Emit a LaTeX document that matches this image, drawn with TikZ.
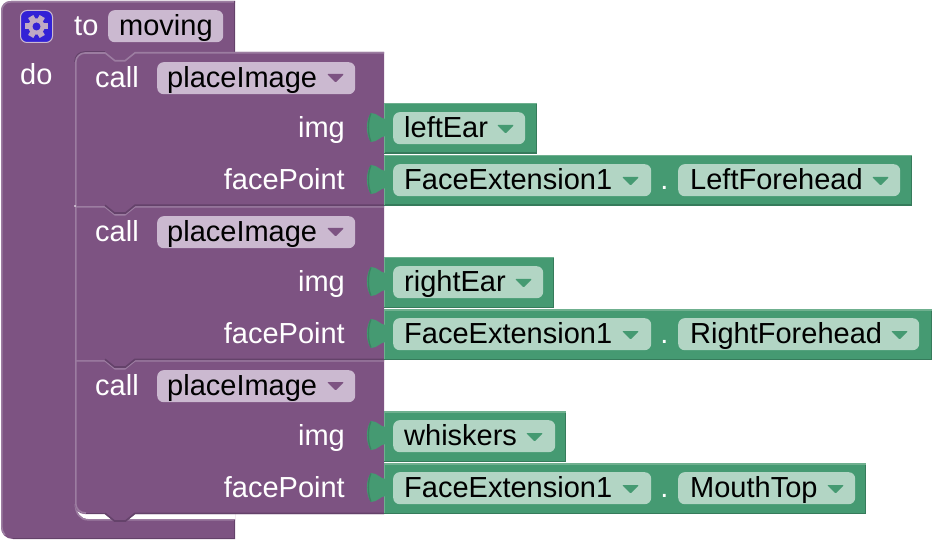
\documentclass[tikz,border=0pt]{standalone}
\usepackage{fontspec}
\setmainfont{Liberation Sans}
\definecolor{pur}{HTML}{7D5382}
\definecolor{purL}{HTML}{9C7DA1}
\definecolor{purD}{HTML}{64426A}
\definecolor{purF}{HTML}{CBB9D0}
\definecolor{grn}{HTML}{459A72}
\definecolor{grnL}{HTML}{6FB08F}
\definecolor{grnD}{HTML}{367B5B}
\definecolor{grnF}{HTML}{B2D5C4}
\definecolor{gearblue}{HTML}{3322D6}
\tikzset{
  x=1pt,y=-1pt,
  lbl/.style={inner sep=0pt,anchor=base,font=\fontsize{29}{29}\selectfont},
  wlbl/.style={lbl,text=white},
  blbl/.style={lbl,text=black,anchor=base west},
  wlblr/.style={lbl,text=white,anchor=base east},
  fieldbox/.style={rounded corners=6.5pt,inner sep=0pt,minimum height=32pt,anchor=north west},
  edgeL/.style={line width=1.6pt,purL},
  edgeD/.style={line width=1.6pt,purD},
  gL/.style={line width=1.6pt,grnL},
  gD/.style={line width=1.6pt,grnD},
}
% \callblock{top}{path back from the notch to the left edge}
\newcommand{\callblock}[2]{%
  \fill[pur] (75,#1) -- (105,#1) -- (115,#1+8) -- (125,#1+8) -- (135,#1) -- (384,#1) -- (384,#1+154) -- (135,#1+154) -- (125,#1+162) -- (115,#1+162) -- (105,#1+154) #2 -- cycle;
  \draw[edgeD] (384,#1+153.3) -- (135,#1+153.3) -- (125.5,#1+161) -- (114.5,#1+161) -- (105,#1+153.3);
  \draw[edgeL] (75,#1+.8) -- (105,#1+.8) -- (115,#1+8.8) -- (125,#1+8.8) -- (135,#1+.8) -- (384,#1+.8);
}
% \valueblock{top}{right}
\newcommand{\valueblock}[2]{%
  \fill[grn] (384,#1) rectangle (#2,#1+51);
  \draw[gD] (#2-.7,#1) -- (#2-.7,#1+50.3) -- (384,#1+50.3);
  \draw[gL] (384.5,#1+50) -- (384.5,#1+.7) -- (#2,#1+.7);
  \fill[grn] (386,#1+16) .. controls (380,#1+16) and (378,#1+10) .. (371,#1+10) .. controls (365.5,#1+17) and (365.5,#1+32) .. (371,#1+39) .. controls (378,#1+39) and (380,#1+33) .. (386,#1+33) -- cycle;
  \draw[line width=1.3pt,grnD!70!grn] (371,#1+10.5) .. controls (367.5,#1+18) and (367.5,#1+31) .. (371,#1+38.5);
}
% \dropmark{x}{y}{colour}
\newcommand{\dropmark}[3]{\fill[#3,rounded corners=1pt] (#1,#2) -- (#1+17,#2) -- (#1+8.5,#2+8.5) -- cycle;}
\begin{document}
\begin{tikzpicture}
\useasboundingbox (0,0) rectangle (932,540);
% outer procedure block
\fill[pur] (1,11) .. controls (1,5) and (5,1) .. (11,1) -- (235,1) -- (235,539) -- (13,539) .. controls (6,539) and (1,534) .. (1,527) -- cycle;
\fill[white] (75,500) .. controls (75,511) and (80,519) .. (88,519) -- (235,519) -- (235,512) -- (85,512) -- cycle;
\draw[edgeL] (235,1.8) -- (11,1.8) .. controls (5.5,1.8) and (1.8,5.5) .. (1.8,11) -- (1.8,527) .. controls (1.8,530) and (3,533) .. (5,535);
\draw[edgeL] (75.3,504) .. controls (75.5,513) and (80,519.8) .. (88,519.8) -- (235,519.8);
\draw[edgeD] (235,538.3) -- (13,538.3);
\draw[edgeD] (234.3,520) -- (234.3,539);
\draw[edgeD] (234.3,1) -- (234.3,52);
% statement blocks, lowest first so each notch overlays the next block
\callblock{360}{-- (85,514) .. controls (79,514) and (75,510) .. (75,504)}
\callblock{206}{-- (75,360)}
\callblock{52}{-- (75,206)}
% first block's rounded top corner
\fill[pur] (75,51) rectangle (86,62);
\draw[edgeD] (75,62) .. controls (75,56) and (79,52) .. (85,52) -- (105,52);
\fill[pur] (75.8,62) .. controls (75.8,57) and (80,53) .. (85,53) -- (87,62) -- cycle;
\draw[edgeL] (75.8,62) .. controls (75.8,57) and (80,53) .. (85,53) -- (105,53);
\draw[edgeL] (75.8,62) -- (75.8,504) .. controls (76,509) and (80,513) .. (86,513);
\draw[edgeD] (86,513.3) -- (106,513.3);
\fill[white] (75,206) circle[radius=.9];
% green reporter blocks
\valueblock{103}{537}
\valueblock{155}{912}
\valueblock{257}{554}
\valueblock{309}{932}
\valueblock{411}{566}
\valueblock{463}{866}
% header
\node[fieldbox,fill=gearblue,draw=purF,line width=1pt,minimum width=32pt,minimum height=32pt] (gearbox) at (20,10) {};
\fill[purF!85!pur] (gearbox.center) circle[radius=8.2];
\foreach \a in {0,60,...,300}{\fill[purF!85!pur] (gearbox.center) ++(\a:7) ++(\a+90:3) -- ++(\a:4.5) -- ++(\a-90:6) -- ++(\a:-4.5) -- cycle;}
\fill[gearblue] (gearbox.center) circle[radius=4];
\node[wlbl,anchor=base west] (to) at (74,35.5) {to};
\node[wlbl,anchor=base west] (do) at (20,84.5) {do};
\node[fieldbox,fill=purF,minimum width=115pt] (f0) at (108,10) {};
\node[blbl] (moving) at (119,35.5) {moving};
% call rows
\foreach \t/\n in {0/a,154/b,308/c}{
  \node[wlbl,anchor=base west] (call\n) at (95,87.5+\t) {call};
  \node[fieldbox,fill=purF,minimum width=198pt] (pf\n) at (157,62+\t) {};
  \node[blbl] (pi\n) at (167,87.5+\t) {placeImage};
  \dropmark{327}{74+\t}{pur}
  \node[wlblr] (img\n) at (345,137.5+\t) {img};
  \node[wlblr] (fp\n) at (345,189.5+\t) {facePoint};
  \node[fieldbox,fill=grnF,minimum width=258pt] (fe\n) at (393,164+\t) {};
  \node[blbl] (fet\n) at (404,189.5+\t) {FaceExtension1};
  \dropmark{622}{177+\t}{grn}
  \node[wlbl] (dot\n) at (664.5,189.5+\t) {.};
}
% img fields
\node[fieldbox,fill=grnF,minimum width=132pt] (v1) at (393,112) {};
\node[blbl] (v1t) at (404,137.5) {leftEar};
\dropmark{497}{125}{grn}
\node[fieldbox,fill=grnF,minimum width=150pt] (v2) at (393,266) {};
\node[blbl] (v2t) at (404,291.5) {rightEar};
\dropmark{515}{279}{grn}
\node[fieldbox,fill=grnF,minimum width=162pt] (v3) at (393,420) {};
\node[blbl] (v3t) at (404,445.5) {whiskers};
\dropmark{526}{433}{grn}
% face point fields
\node[fieldbox,fill=grnF,minimum width=222pt] (p1) at (678,164) {};
\node[blbl] (p1t) at (690,189.5) {LeftForehead};
\dropmark{872}{177}{grn}
\node[fieldbox,fill=grnF,minimum width=241pt] (p2) at (678,318) {};
\node[blbl] (p2t) at (690,343.5) {RightForehead};
\dropmark{891}{331}{grn}
\node[fieldbox,fill=grnF,minimum width=177pt] (p3) at (678,472) {};
\node[blbl] (p3t) at (690,497.5) {MouthTop};
\dropmark{827}{485}{grn}
\end{tikzpicture}
\end{document}
